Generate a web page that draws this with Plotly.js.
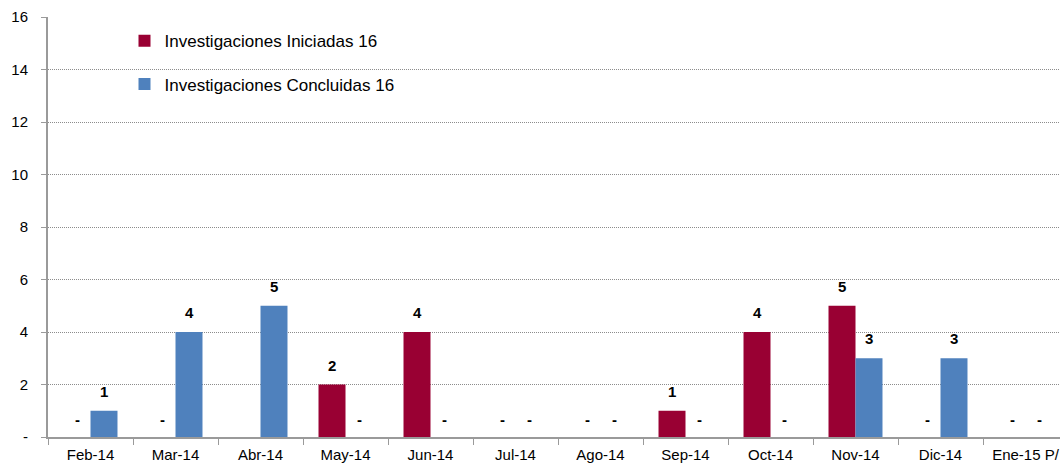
<!DOCTYPE html>
<html><head><meta charset="utf-8">
<script src="https://cdn.plot.ly/plotly-3.0.1.min.js"></script>
<style>html,body{margin:0;padding:0;overflow:hidden;background:#fff}</style>
</head><body>
<div id="chart"></div>
<script>
const categories = ["Feb-14","Mar-14","Abr-14","May-14","Jun-14","Jul-14","Ago-14","Sep-14","Oct-14","Nov-14","Dic-14","Ene-15 P/"];
const iniciadas = [0,0,null,2,4,0,0,1,4,5,0,0];
const concluidas = [1,4,5,0,0,0,0,0,0,3,3,0];
const seriesNames = ["Investigaciones Iniciadas 16","Investigaciones Concluidas 16"];
const yTickVals = [0,2,4,6,8,10,12,14,16];
const yTickText = ["-","2","4","6","8","10","12","14","16"];

const colors = ["#990033","#4F81BD"];
const font = "Liberation Sans, Arial, sans-serif";

const traces = [iniciadas, concluidas].map((vals, k) => ({
  type: "bar", x: categories, y: vals, name: seriesNames[k],
  marker: {color: colors[k], line: {width: 0}},
  legendgroup: "g" + k, hoverinfo: "skip"
}));

const annotations = [];
[iniciadas, concluidas].forEach((vals, k) => {
  vals.forEach((v, i) => {
    if (v === null) return;
    annotations.push({
      x: categories[i], y: v, xref: "x", yref: "y",
      text: v === 0 ? "-" : String(v), showarrow: false,
      xshift: k === 0 ? -13.5 : 13.5, yanchor: "bottom", yshift: v === 0 ? 7 : 9,
      font: {family: font, size: 15, color: "#000", weight: "bold"}
    });
  });
});

const layout = {
  width: 1070, height: 463,
  margin: {l: 48, r: 2, t: 17, b: 26},
  paper_bgcolor: "#fff", plot_bgcolor: "#fff",
  barmode: "group", bargap: 0.365, bargroupgap: 0,
  font: {family: font, size: 15, color: "#000"},
  xaxis: {
    type: "category", showline: true, linecolor: "#9a9a9a", linewidth: 2,
    ticks: "outside", tickson: "boundaries", ticklen: 6, tickcolor: "#9a9a9a",
    ticklabelstandoff: 3,
    showgrid: false, tickfont: {size: 15}, fixedrange: true
  },
  yaxis: {
    range: [0, 16], tickvals: yTickVals, ticktext: yTickText,
    showline: true, linecolor: "#9a9a9a", linewidth: 2,
    ticks: "outside", ticklen: 5, tickcolor: "#9a9a9a",
    ticklabelstandoff: 10,
    showgrid: true, gridcolor: "#8c8c8c", griddash: "1px,1px", gridwidth: 1,
    zeroline: false, tickfont: {size: 15}, fixedrange: true
  },
  legend: {
    x: 0.075, y: 0.985, xanchor: "left", yanchor: "top",
    bgcolor: "rgba(0,0,0,0)", font: {size: 17, family: font},
    traceorder: "grouped", tracegroupgap: 18, itemwidth: 30
  },
  annotations: annotations
};

Plotly.newPlot("chart", traces, layout, {displayModeBar: false, staticPlot: true});
</script>
</body></html>
